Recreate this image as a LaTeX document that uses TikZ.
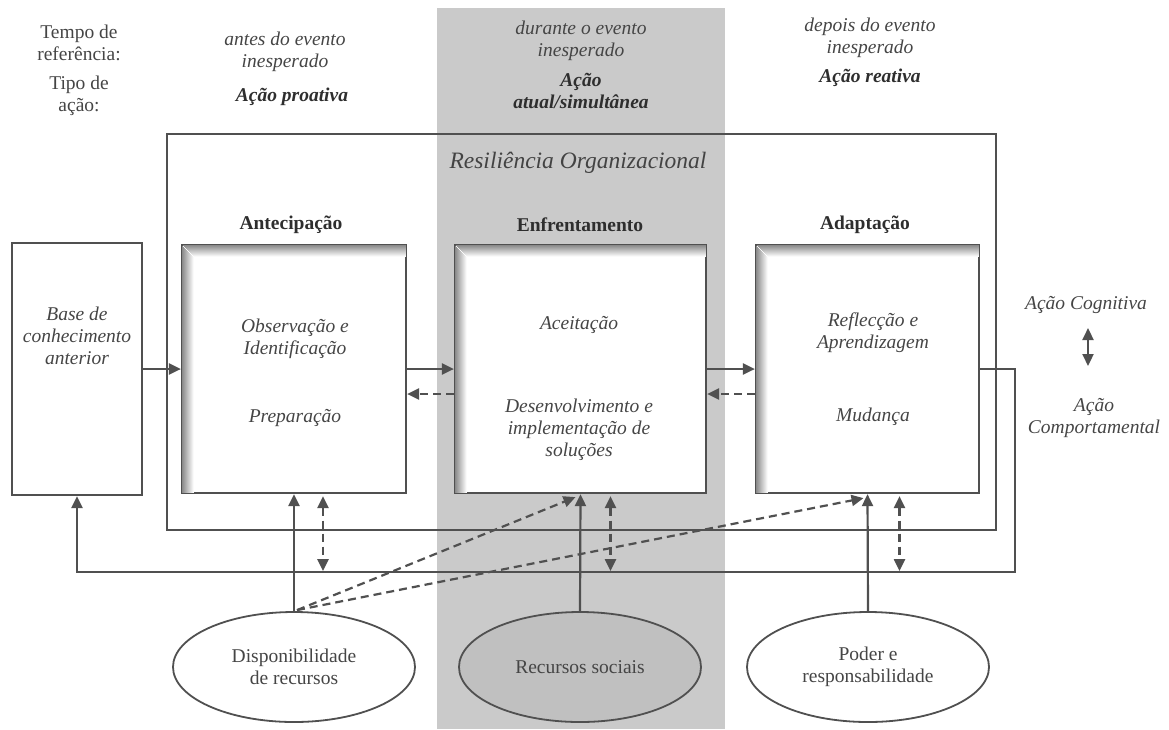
\documentclass[tikz,border=0pt]{standalone}
\usepackage{fontspec}
\setmainfont{Liberation Serif}
\usetikzlibrary{arrows.meta,shapes.geometric,calc}
\definecolor{linec}{HTML}{505050}
\definecolor{txtc}{HTML}{454545}
\definecolor{headc}{HTML}{2E2E2E}
\definecolor{bandc}{HTML}{CACACA}
\definecolor{ellc}{HTML}{C0C0C0}
\begin{document}
\begin{tikzpicture}[x=1pt,y=-1pt,
  txt/.style={text=txtc, align=center, inner sep=0pt, font=\fontsize{19.5}{22}\selectfont},
  itx/.style={txt, font=\fontsize{19.5}{22}\selectfont\itshape},
  bix/.style={txt, text=headc, font=\fontsize{19.5}{22}\selectfont\bfseries\itshape},
  head/.style={txt, text=headc, font=\fontsize{19.5}{22}\selectfont\bfseries},
  titl/.style={txt, text=headc!90, font=\fontsize{23.5}{26}\selectfont\itshape},
  frame/.style={draw=linec, line width=2.2pt, inner sep=0pt, rectangle},
  inbox/.style={frame, fill=white},
  ell/.style={draw=linec, line width=1.8pt, ellipse, inner sep=0pt, minimum width=242pt, minimum height=110pt, align=center, text=txtc, font=\fontsize{19.5}{22}\selectfont},
  conn/.style={draw=linec, line width=2.2pt},
  tip/.tip={Triangle[length=12pt,width=11pt]},
  arr/.style={conn, -tip},
  darr/.style={conn, dash pattern=on 8pt off 5pt, -tip},
  ddarr/.style={conn, dash pattern=on 8pt off 5pt, tip-tip},
  sdarr/.style={conn, tip-tip}
]
\useasboundingbox (0,0) rectangle (1169,729);
% gray band
\fill[bandc] (437,8) rectangle (725,729);

% outer box
\node[frame, minimum width=829pt, minimum height=396pt] (outer) at (581.5,332) {};
\node[titl] (title) at (578,163) {Resiliência Organizacional};

% top labels
\node[txt] (tempo) at (79,43) {Tempo de\\referência:};
\node[txt] (tipo) at (79,96) {Tipo de\\ação:};
\node[itx] (antes) at (285,52) {antes do evento\\inesperado};
\node[bix] (proativa) at (292,97) {Ação proativa};
\node[itx] (durante) at (581,41) {durante o evento\\inesperado};
\node[bix] (simult) at (581,91) {Ação\\atual/simultânea};
\node[itx] (depois) at (870,38) {depois do evento\\inesperado};
\node[bix] (reativa) at (870,78) {Ação reativa};

% headings
\node[head] (hant) at (291,225) {Antecipação};
\node[head] (henf) at (580,225) {Enfrentamento};
\node[head] (hada) at (865,225) {Adaptação};

% boxes
\node[frame, fill=white, minimum width=130pt, minimum height=252pt] (base) at (77,369) {};
\node[inbox, minimum width=224pt, minimum height=248pt] (ant) at (294,369) {};
\node[inbox, minimum width=251pt, minimum height=248pt] (enf) at (580.5,369) {};
\node[inbox, minimum width=223pt, minimum height=248pt] (ada) at (867.5,369) {};

% inset shadows
\foreach \b in {ant,enf,ada}{
  \foreach \i in {1,...,12}{
    \pgfmathsetmacro\c{50-4*\i}
    \draw[black!\c, line width=1.05pt]
      ([xshift=\i pt+0.6pt, yshift=-\i pt-0.6pt]\b.north west) -- ([xshift=-1.2pt, yshift=-\i pt-0.6pt]\b.north east);
    \draw[black!\c, line width=1.05pt]
      ([xshift=\i pt+0.6pt, yshift=-\i pt-0.6pt]\b.north west) -- ([xshift=\i pt+0.6pt, yshift=1.2pt]\b.south west);
  }
}

% box texts
\node[itx] (basetxt) at (77,336) {Base de\\conhecimento\\anterior};
\node[itx] (obs) at (295,339) {Observação e\\Identificação};
\node[itx] (prep) at (295,418) {Preparação};
\node[itx] (aceit) at (579,325) {Aceitação};
\node[itx] (desenv) at (579,430) {Desenvolvimento e\\implementação de\\soluções};
\node[itx] (refl) at (873,333) {Reflecção e\\Aprendizagem};
\node[itx] (mud) at (873,417) {Mudança};

% right side
\node[itx] (cog) at (1086,305) {Ação Cognitiva};
\node[itx] (comp) at (1094,418) {Ação\\Comportamental};
\coordinate (cogA) at (1088,328);
\coordinate (cogB) at (1088,366);
\draw[sdarr] (cogA) -- (cogB);

% ellipses
\node[ell, fill=white] (disp) at (294,667) {Disponibilidade\\de recursos};
\node[ell, fill=ellc] (rec) at (580,667) {Recursos sociais};
\node[ell, fill=white] (poder) at (868,667) {Poder e\\responsabilidade};

% horizontal connectors
\draw[arr] (base.east) -- (ant.west);
\draw[arr] (ant.east) -- (enf.west);
\draw[arr] (enf.east) -- (ada.west);
\draw[darr] ([yshift=-25pt]enf.west) -- ([yshift=-25pt]ant.east);
\draw[darr] ([yshift=-25pt]ada.west) -- ([yshift=-25pt]enf.east);

% feedback loop
\coordinate (fbR) at (1015,572);
\draw[arr] (ada.east) -| (fbR) -| (base.south);

% vertical solid arrows
\draw[arr] (disp.north) -- (ant.south);
\draw[arr] (rec.north) -- (enf.south);
\draw[arr] (poder.north) -- (ada.south);

% dashed double arrows
\draw[ddarr] ([xshift=29pt,yshift=-2pt]ant.south) -- ($(ant.south)+(29,77)$);
\draw[ddarr] ([xshift=30pt,yshift=-2pt]enf.south) -- ($(enf.south)+(30,77)$);
\draw[ddarr] ([xshift=32pt,yshift=-2pt]ada.south) -- ($(ada.south)+(32,77)$);

% dashed diagonals
\coordinate (dsrc) at ($(disp.north)+(3,-1)$);
\draw[darr] (dsrc) -- ($(enf.south)+(-5,3)$);
\draw[darr] (dsrc) -- ($(ada.south)+(-4,4)$);
\end{tikzpicture}
\end{document}
